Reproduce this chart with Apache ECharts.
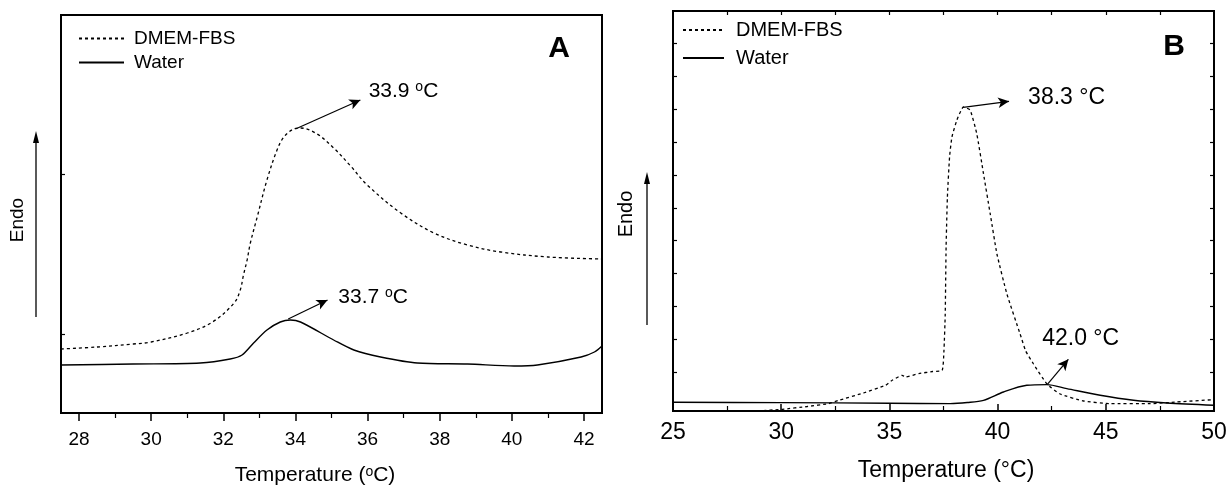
<!DOCTYPE html>
<html>
<head>
<meta charset="utf-8">
<script src="https://cdn.jsdelivr.net/npm/echarts@6/dist/echarts.min.js"></script>
<style>
html, body { margin: 0; padding: 0; background: #fff; }
#main { width: 1227px; height: 485px; }
</style>
</head>
<body>
<div id="main"></div>
<script>
// panel A (temperature in oC, heat flow in arbitrary units)
var tempA_dmem = [27.5, 28.5, 29.5, 30.0, 31.0, 31.7, 32.3, 32.47, 32.56, 32.66, 32.75, 32.94, 33.21, 33.49, 33.68, 33.95, 34.14, 34.6, 35.06, 35.53, 35.99, 36.92, 37.84, 38.77, 39.69, 41.0, 42.5];
var flowA_dmem = [64, 66, 69, 71, 80, 91, 110, 123, 138, 153, 170, 196, 233, 263, 276, 284, 285, 279, 265, 247, 228, 200, 180, 168, 161, 156, 154];
var tempA_water = [27.5, 29.5, 31.36, 32.19, 32.52, 32.84, 33.21, 33.58, 33.86, 34.14, 35.06, 35.62, 36.36, 37.38, 38.77, 40.06, 40.71, 41.92, 42.29, 42.5];
var flowA_water = [48, 49, 50, 54, 58, 70, 83, 91, 93, 91, 73, 63, 56, 50, 49, 47, 48, 56, 61, 67];

// panel B
var tempB_dmem = [28.9, 30.05, 31.2, 32.2, 32.67, 33.8, 34.82, 35.13, 35.59, 35.74, 36.36, 37.0, 37.44, 37.52, 37.58, 37.62, 37.68, 37.78, 37.89, 38.12, 38.42, 38.73, 39.04, 39.35, 39.66, 39.97, 40.43, 41.04, 41.3, 41.66, 42.28, 42.89, 43.97, 45.2, 47.05, 48.28, 50];
var flowB_dmem = [0, 1.7, 4.5, 7.4, 10.7, 18, 25.7, 30.7, 35.7, 34, 37.4, 39.5, 40.7, 60, 97, 164, 214, 254, 274, 291, 304, 301, 277, 237, 197, 157, 117, 77, 60, 47, 27, 17, 10, 7.4, 7.4, 9, 11.4];
var tempB_water = [25, 30, 35, 37.81, 38.6, 39.35, 40.27, 41.35, 42.28, 43.2, 44.74, 46.28, 47.82, 50];
var flowB_water = [8.7, 8.4, 7.8, 7.4, 8.5, 10.7, 19, 25.7, 26.4, 22.4, 15.7, 10.7, 8, 5.7];

// tick labels
var ticksA_major = [28, 30, 32, 34, 36, 38, 40, 42];
var ticksA_minor = [29, 31, 33, 35, 37, 39, 41];
var ticksA_y = [79, 239];
var ticksB_major = [25, 30, 35, 40, 45, 50];
var ticksB_minor = [27.5, 32.5, 37.5, 42.5, 47.5];
var ticksB_top = [27.5, 30, 32.5, 35, 37.5, 40, 42.5, 45, 47.5];
var ticksB_y = [39, 71.8, 104.7, 137.5, 170.4, 203.2, 236.1, 268.9, 301.8, 334.6, 367.4];

// peak annotations: [x0, y0, x1, y1], label position
var arrowA1 = [34.0, 284, 35.8, 313], labelA1 = [36.03, 322];
var arrowA2 = [33.8, 94, 34.89, 113], labelA2 = [35.19, 116];
var arrowB1 = [38.41, 303.7, 40.53, 309.7], labelB1 = [41.41, 313.7];
var arrowB2 = [42.3, 26.7, 43.27, 51.7], labelB2 = [42.06, 72.7];

var FONT = '"Liberation Sans", Arial, sans-serif';

function zip(xs, ys) {
	var out = [];
	for (var i = 0; i < xs.length; i++) {
		out.push([xs[i], ys[i]]);
	}
	return out;
}

function arrow(a) {
	return {
		silent: true,
		symbol: ['none', 'arrow'],
		symbolSize: [8, 11],
		lineStyle: { color: '#000', width: 1.2, type: 'solid' },
		label: { show: false },
		data: [[{ coord: [a[0], a[1]] }, { coord: [a[2], a[3]] }]]
	};
}

function note(pos, text, size) {
	return {
		silent: true,
		symbol: 'circle',
		symbolSize: 0,
		data: [{
			coord: pos,
			label: {
				show: true,
				position: 'right',
				distance: 0,
				formatter: text,
				color: '#000',
				fontFamily: FONT,
				fontSize: size,
				rich: { sup: { fontSize: Math.round(size * 0.65), verticalAlign: 'top', fontFamily: FONT, color: '#000' } }
			}
		}]
	};
}

function tickAxis(grid, min, max, vals, len, inside, pos) {
	return {
		type: 'value', gridIndex: grid, min: min, max: max, position: pos || 'bottom', offset: 0,
		axisLine: { show: false },
		axisTick: { show: true, inside: inside, length: len, customValues: vals, lineStyle: { color: '#000', width: 1.2 } },
		axisLabel: { show: false },
		splitLine: { show: false }
	};
}

var myChart = echarts.init(document.getElementById('main'));
var dotted = { color: '#000', width: 1.3, type: [3, 3] };
var solid = { color: '#000', width: 1.4, type: 'solid' };

var option = {
	animation: false,
	backgroundColor: '#fff',
	grid: [
		{ left: 61, top: 15, width: 541, height: 398, outerBoundsMode: 'none', containLabel: false, show: true, borderColor: '#000', borderWidth: 2, backgroundColor: 'transparent' },
		{ left: 673, top: 11, width: 541, height: 400, outerBoundsMode: 'none', containLabel: false, show: true, borderColor: '#000', borderWidth: 2, backgroundColor: 'transparent' }
	],
	legend: [
		{
			orient: 'vertical', left: 78, top: 29, padding: 0, itemWidth: 45, itemHeight: 14, itemGap: 5,
			selectedMode: false, data: ['DMEM-FBS', 'Water'],
			itemStyle: { opacity: 0 },
			textStyle: { fontFamily: FONT, fontSize: 19, color: '#000', padding: [0, 0, 0, 5] }
		},
		{
			orient: 'vertical', left: 682, top: 20, padding: 0, itemWidth: 41, itemHeight: 14, itemGap: 8,
			selectedMode: false, data: ['DMEM-FBS', 'Water'],
			itemStyle: { opacity: 0 },
			textStyle: { fontFamily: FONT, fontSize: 20, color: '#000', padding: [0, 0, 0, 7] }
		}
	],
	xAxis: [
		{
			type: 'value', gridIndex: 0, min: 27.5, max: 42.5,
			axisLine: { show: false },
			axisTick: { show: true, inside: false, length: 8, customValues: ticksA_major, lineStyle: { color: '#000', width: 1.5 } },
			axisLabel: { customValues: ticksA_major, margin: 17, fontFamily: FONT, fontSize: 19, color: '#000' },
			splitLine: { show: false },
			name: 'Temperature ({sup|o}C)', nameLocation: 'middle', nameGap: 52,
			nameTextStyle: {
				fontFamily: FONT, fontSize: 21, color: '#000', padding: [0, 33, 0, 0],
				rich: { sup: { fontSize: 14, verticalAlign: 'top', fontFamily: FONT, color: '#000' } }
			}
		},
		tickAxis(0, 27.5, 42.5, ticksA_minor, 5, false),
		{
			type: 'value', gridIndex: 1, min: 25, max: 50,
			axisLine: { show: false },
			axisTick: { show: true, inside: true, length: 7, customValues: ticksB_major, lineStyle: { color: '#000', width: 1.5 } },
			axisLabel: { customValues: ticksB_major, margin: 10, fontFamily: FONT, fontSize: 23, color: '#000' },
			splitLine: { show: false },
			name: 'Temperature (°C)', nameLocation: 'middle', nameGap: 48,
			nameTextStyle: { fontFamily: FONT, fontSize: 23, color: '#000', padding: [0, 0, 0, 5] }
		},
		tickAxis(1, 25, 50, ticksB_minor, 5, true),
		tickAxis(1, 25, 50, ticksB_top, 4, true, 'top')
	],
	yAxis: [
		{
			type: 'value', gridIndex: 0, min: 0, max: 398,
			axisLine: { show: false },
			axisTick: { show: true, inside: true, length: 4, customValues: ticksA_y, lineStyle: { color: '#000', width: 1.2 } },
			axisLabel: { show: false },
			splitLine: { show: false }
		},
		tickAxis(1, 0, 400, ticksB_y, 4, true, 'left'),
		tickAxis(1, 0, 400, ticksB_y, 4, true, 'right')
	],
	series: [
		{
			name: 'DMEM-FBS', type: 'line', xAxisIndex: 0, yAxisIndex: 0,
			data: zip(tempA_dmem, flowA_dmem), smooth: 0.35, symbol: 'none', lineStyle: dotted,
			itemStyle: { color: '#000' }, silent: true,
			markLine: arrow(arrowA1), markPoint: note(labelA1, '33.9 {sup|o}C', 21)
		},
		{
			name: 'Water', type: 'line', xAxisIndex: 0, yAxisIndex: 0,
			data: zip(tempA_water, flowA_water), smooth: 0.3, symbol: 'none', lineStyle: solid,
			itemStyle: { color: '#000' }, silent: true,
			markLine: arrow(arrowA2), markPoint: note(labelA2, '33.7 {sup|o}C', 21)
		},
		{
			name: 'DMEM-FBS', type: 'line', xAxisIndex: 2, yAxisIndex: 1,
			data: zip(tempB_dmem, flowB_dmem), smooth: 0.15, symbol: 'none', lineStyle: dotted,
			itemStyle: { color: '#000' }, silent: true,
			markLine: arrow(arrowB1), markPoint: note(labelB1, '38.3 °C', 23)
		},
		{
			name: 'Water', type: 'line', xAxisIndex: 2, yAxisIndex: 1,
			data: zip(tempB_water, flowB_water), smooth: 0.3, symbol: 'none', lineStyle: solid,
			itemStyle: { color: '#000' }, silent: true,
			markLine: arrow(arrowB2), markPoint: note(labelB2, '42.0 °C', 23)
		}
	],
	graphic: [
		{ type: 'text', x: 559, y: 49, style: { text: 'A', fontFamily: FONT, fontSize: 30, fontWeight: 'bold', fill: '#000', textAlign: 'center', textVerticalAlign: 'middle' } },
		{ type: 'text', x: 1174, y: 47, style: { text: 'B', fontFamily: FONT, fontSize: 30, fontWeight: 'bold', fill: '#000', textAlign: 'center', textVerticalAlign: 'middle' } },
		// Endo 箭头
		{ type: 'text', x: 18, y: 220, rotation: Math.PI / 2, style: { text: 'Endo', fontFamily: FONT, fontSize: 19, fill: '#000', textAlign: 'center', textVerticalAlign: 'middle' } },
		{ type: 'line', shape: { x1: 36, y1: 317, x2: 36, y2: 140 }, style: { stroke: '#000', lineWidth: 1.3 } },
		{ type: 'polygon', shape: { points: [[36, 131], [33, 143], [39, 143]] }, style: { fill: '#000' } },
		{ type: 'text', x: 626, y: 214, rotation: Math.PI / 2, style: { text: 'Endo', fontFamily: FONT, fontSize: 20, fill: '#000', textAlign: 'center', textVerticalAlign: 'middle' } },
		{ type: 'line', shape: { x1: 647, y1: 325, x2: 647, y2: 181 }, style: { stroke: '#000', lineWidth: 1.3 } },
		{ type: 'polygon', shape: { points: [[647, 172], [644, 184], [650, 184]] }, style: { fill: '#000' } }
	]
};
myChart.setOption(option);
</script>
</body>
</html>
